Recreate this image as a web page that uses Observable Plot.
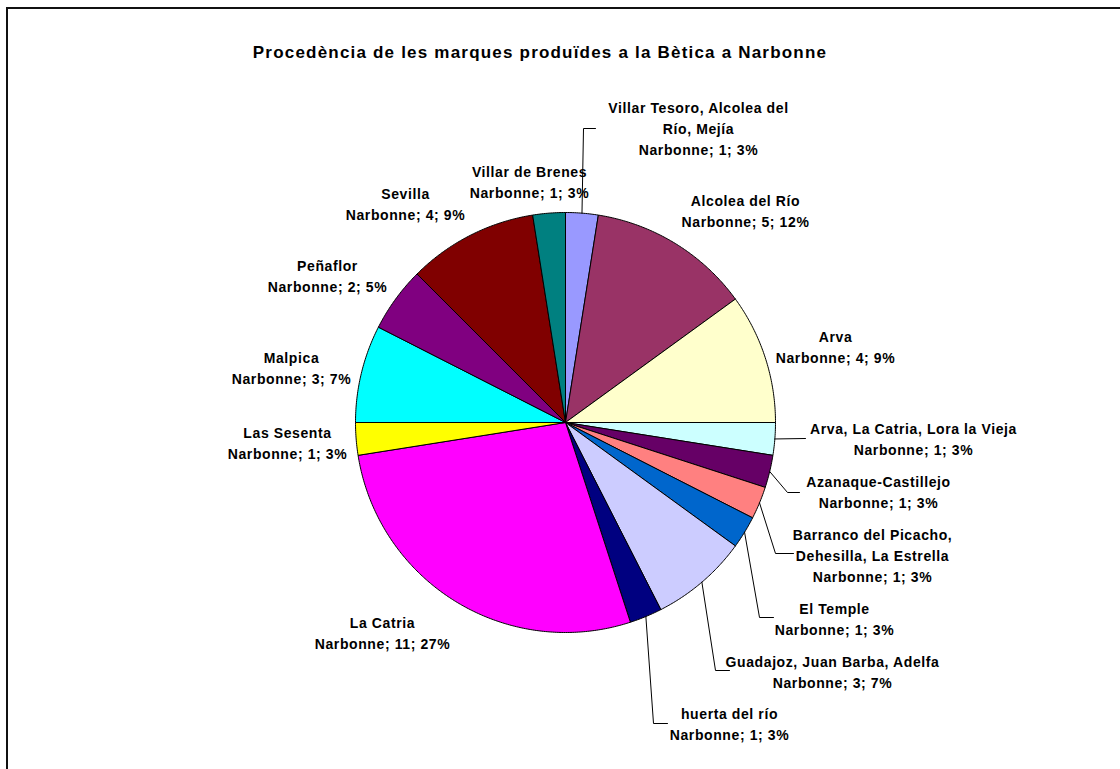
<!DOCTYPE html>
<html>
<head>
<meta charset="utf-8">
<script src="https://cdn.jsdelivr.net/npm/d3@7"></script>
<script src="https://cdn.jsdelivr.net/npm/@observablehq/plot@0.6"></script>
<style>
  html, body { margin: 0; padding: 0; background: #fff; overflow: hidden; }
  #wrap { position: relative; width: 1120px; height: 769px; }
  #frame { position: absolute; left: 6px; top: 7px; width: 1300px; height: 900px;
           border-left: 2px solid #111; border-top: 2px solid #111; box-sizing: border-box; }
  #title { position: absolute; left: 0; top: 42px; width: 1080px; text-align: center;
           font-family: "Liberation Sans", Arial, sans-serif; font-weight: bold; font-size: 17px;
           letter-spacing: 1.2px; color: #000; line-height: 22px; }
  #chart { position: absolute; left: 0; top: 0; }
</style>
</head>
<body>
<div id="wrap">
  <div id="frame"></div>
  <div id="chart"></div>
  <div id="title">Procedència de les marques produïdes a la Bètica a Narbonne</div>
</div>
<script>
// ---- data ----
const names = [
  "Villar Tesoro, Alcolea del Río, Mejía",
  "Alcolea del Río",
  "Arva",
  "Arva, La Catria, Lora la Vieja",
  "Azanaque-Castillejo",
  "Barranco del Picacho, Dehesilla, La Estrella",
  "El Temple",
  "Guadajoz, Juan Barba, Adelfa",
  "huerta del río",
  "La Catria",
  "Las Sesenta",
  "Malpica",
  "Peñaflor",
  "Sevilla",
  "Villar de Brenes"
];
const values = [1, 5, 4, 1, 1, 1, 1, 3, 1, 11, 1, 3, 2, 4, 1];
const percents = [3, 12, 9, 3, 3, 3, 3, 7, 3, 27, 3, 7, 5, 9, 3];
const seriesName = "Narbonne";
const colors = ["#9999FF", "#993366", "#FFFFCC", "#CCFFFF", "#660066", "#FF8080", "#0066CC",
                "#CCCCFF", "#000080", "#FF00FF", "#FFFF00", "#00FFFF", "#800080", "#800000", "#008080"];

// ---- layout (offsets from pie centre in pixel-like units, y up) ----
const R = 210;
const labelPos = [[133, 295.5], [180, 212.5], [270, 77], [348, -15.5], [313, -68.5], [307, -131.5],
                  [269, -195.5], [267, -248], [164, -300], [-183, -209.5], [-278, -19.5], [-274, 55.5],
                  [-238, 147.5], [-160, 219.5], [-36, 242]];
const labelBreakAfterWords = {0: 4, 5: 3};
const leaderElbows = {
  0: [[18, 294], [30, 294]],
  3: [[240, -16]],
  4: [[222, -70], [234, -70]],
  5: [[210, -131], [228, -131]],
  6: [[194, -195], [208, -195]],
  7: [[150, -248], [164, -248]],
  8: [[88, -301], [102, -301]]
};

// ---- build geometry ----
const arcs = d3.pie().sort(null).value(d => d)(values);
const slicePts = [];
arcs.forEach((a, i) => {
  const name = names[i];
  slicePts.push({name, x: 0, y: 0});
  const n = Math.max(2, Math.ceil((a.endAngle - a.startAngle) / (Math.PI / 360)));
  for (let k = 0; k <= n; k++) {
    const t = a.startAngle + (a.endAngle - a.startAngle) * k / n;
    slicePts.push({name, x: R * Math.sin(t), y: R * Math.cos(t)});
  }
  slicePts.push({name, x: 0, y: 0});
});

const labels = names.map((name, i) => {
  let title = name;
  if (labelBreakAfterWords[i]) {
    const w = name.split(" ");
    title = w.slice(0, labelBreakAfterWords[i]).join(" ") + "\n" + w.slice(labelBreakAfterWords[i]).join(" ");
  }
  return {x: labelPos[i][0], y: labelPos[i][1],
          text: `${title}\n${seriesName}; ${values[i]}; ${percents[i]}%`};
});

const leaderPts = [];
Object.entries(leaderElbows).forEach(([k, elbows]) => {
  const a = arcs[+k];
  const mid = (a.startAngle + a.endAngle) / 2;
  leaderPts.push({id: k, x: R * Math.sin(mid), y: R * Math.cos(mid)});
  elbows.forEach(([x, y]) => leaderPts.push({id: k, x, y}));
});

const chart = Plot.plot({
  width: 1120,
  height: 769,
  margin: 0,
  style: {background: "transparent", fontFamily: "'Liberation Sans', Arial, sans-serif", letterSpacing: "0.6px"},
  x: {domain: [-565, 555], range: [0, 1120], axis: null},
  y: {domain: [-347, 422], range: [769, 0], axis: null},
  color: {type: "ordinal", domain: names, range: colors, legend: false},
  marks: [
    Plot.line(slicePts, {x: "x", y: "y", z: "name", fill: "name", stroke: "#000", strokeWidth: 1, strokeLinejoin: "miter"}),
    Plot.line(leaderPts, {x: "x", y: "y", z: "id", stroke: "#000", strokeWidth: 1}),
    Plot.text(labels, {x: "x", y: "y", text: "text", fontWeight: "bold", fontSize: 14,
                       lineHeight: 1.5, fill: "#000", textAnchor: "middle"})
  ]
});
document.getElementById("chart").appendChild(chart);
</script>
</body>
</html>
